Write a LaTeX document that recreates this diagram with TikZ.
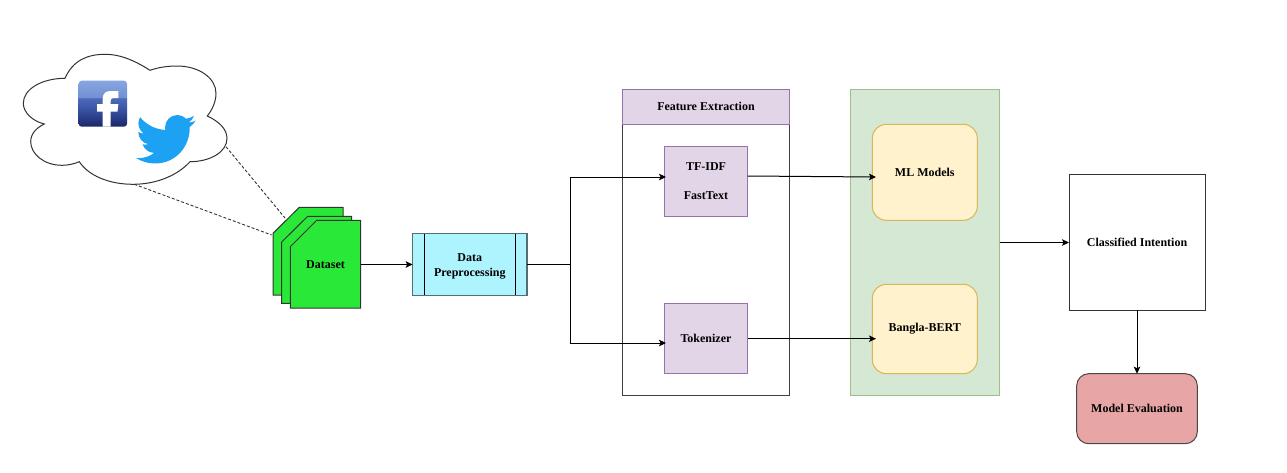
\documentclass[tikz,border=0pt]{standalone}
\usepackage{fontspec}
\setmainfont{Liberation Serif}
\usetikzlibrary{arrows.meta}
\definecolor{stackgreen}{HTML}{2AE838}
\definecolor{procblue}{HTML}{AEF4FF}
\definecolor{procline}{HTML}{566E73}
\definecolor{purplefill}{HTML}{E1D5E7}
\definecolor{purpleline}{HTML}{9673A6}
\definecolor{greenfill}{HTML}{D5E8D4}
\definecolor{greenline}{HTML}{9DC08B}
\definecolor{yellowfill}{HTML}{FFF2CC}
\definecolor{yellowline}{HTML}{D6B656}
\definecolor{redfill}{HTML}{E8A5A5}
\definecolor{redline}{HTML}{4F4545}
\definecolor{birdblue}{HTML}{1DA1F2}
\definecolor{fbA}{HTML}{1A2768}
\definecolor{fbB}{HTML}{3A55A6}
\definecolor{fbC}{HTML}{4D6BB8}
\definecolor{fbD}{HTML}{7391D2}
\definecolor{fbE}{HTML}{86A5E0}
\pgfdeclareverticalshading{fbshade}{100bp}{color(0bp)=(fbA); color(25bp)=(fbA); color(45bp)=(fbB); color(56bp)=(fbC); color(57bp)=(fbD); color(75bp)=(fbE); color(100bp)=(fbE)}
\tikzset{
  label/.style={font=\fontsize{12}{15}\selectfont\bfseries, align=center, inner sep=0pt, outer sep=0pt},
  box/.style={label, draw, line width=1pt},
  flow/.style={line width=1pt, -{Stealth[length=7pt,width=6.5pt,inset=1.5pt]}},
  plain/.style={line width=1pt},
  cloudlink/.style={line width=0.9pt, dash pattern=on 3pt off 2pt, draw=black!80},
  sheet/.style={draw=black!80, line width=1pt, fill=stackgreen}
}
\begin{document}
\begin{tikzpicture}[x=1pt,y=-1pt]
  \useasboundingbox (0,0) rectangle (1287,472);
  \draw[line width=1pt, draw=black!80, fill=white]
    (65,78.3) .. controls (73,60) and (88,54.3) .. (105,54.3)
    .. controls (122,54.3) and (137,62) .. (150,70.3)
    .. controls (158,67.5) and (167,66) .. (177,66)
    .. controls (199,66) and (216,78) .. (216,93.3)
    .. controls (216,102) and (212,110) .. (207.3,116)
    .. controls (219,121.5) and (227,129) .. (227,138.5)
    .. controls (227,152) and (210,161.7) .. (190,161.7)
    .. controls (178,175) and (157,184.3) .. (133,184.3)
    .. controls (108,184.3) and (88,175) .. (79.3,161.7)
    .. controls (74,164) and (68,165.3) .. (62,165.3)
    .. controls (44,165.3) and (30.7,154) .. (30.7,141.7)
    .. controls (30.7,134) and (36,128) .. (44.3,124)
    .. controls (32,121) and (23.3,112) .. (23.3,103.3)
    .. controls (23.3,89) and (42,78.3) .. (65,78.3) -- cycle;
  \path[shading=fbshade, rounded corners=3pt] (78.7,80.7) rectangle (127,126.7);
  \fill[white] (102.7,126.7) -- (102.7,111.7) -- (97,111.7) -- (97,104) -- (102.7,104) -- (102.7,99)
    .. controls (102.7,93) and (106,91) .. (111,91) -- (118.3,91) -- (118.3,98) -- (113.5,98)
    .. controls (111.5,98) and (110.7,99) .. (110.7,101) -- (110.7,104) -- (118.3,104)
    -- (117.5,111.7) -- (110.7,111.7) -- (110.7,126.7) -- cycle;
  \begin{scope}[shift={(136,109.3)},x=2.49pt,y=-2.49pt]
    \fill[birdblue] (23.953,4.57) .. controls (23.05,4.97) and (22.1,5.23) .. (21.128,5.345)
      .. controls (22.1,4.76) and (22.9,3.78) .. (23.291,2.622)
      .. controls (22.34,3.177) and (21.286,3.581) .. (20.164,3.806)
      .. controls (19.26,2.85) and (18,2.28) .. (16.6,2.28)
      .. controls (13.88,2.28) and (11.68,4.48) .. (11.68,7.2)
      -- (11.78,8.288)
      .. controls (7.69,8.095) and (4.067,6.13) .. (1.64,3.162)
      .. controls (1.22,3.88) and (.974,4.73) .. (.974,5.637)
      .. controls (.974,7.347) and (1.844,8.85) .. (3.162,9.733)
      .. controls (2.37,9.71) and (1.6,9.49) .. (.934,9.117)
      -- (.934,9.177)
      .. controls (.934,11.56) and (2.63,13.55) .. (4.88,14.004)
      .. controls (4.16,14.2) and (3.4,14.23) .. (2.668,14.089)
      .. controls (3.3,16.05) and (5.13,17.47) .. (7.272,17.506)
      .. controls (5.6,18.82) and (3.47,19.611) .. (1.17,19.611)
      .. controls (.78,19.611) and (.391,19.588) .. (0,19.544)
      .. controls (2.18,20.94) and (4.77,21.753) .. (7.557,21.753)
      .. controls (16.61,21.753) and (21.555,14.257) .. (21.555,7.768)
      .. controls (21.555,7.558) and (21.555,7.348) .. (21.54,7.138)
      .. controls (22.5,6.44) and (23.33,5.57) .. (23.953,4.57) -- cycle;
  \end{scope}
  \draw[sheet] (273,233.3) -- (299.3,207.3) -- (343,207.3) -- (343,295) -- (273,295) -- cycle;
  \draw[sheet] (281.7,242) -- (307.7,216.3) -- (351.7,216.3) -- (351.7,303.3) -- (281.7,303.3) -- cycle;
  \draw[sheet] (290.3,246.7) -- (316.7,220.3) -- (360.7,220.3) -- (360.7,308) -- (290.3,308) -- cycle;
  \coordinate (cloudbottom) at (134.3,184.3);
  \coordinate (cloudright) at (226,146.7);
  \coordinate (sheetleft) at (271.7,235);
  \coordinate (sheettop) at (285,218);
  \coordinate (split) at (570.3,264.5);
  \coordinate (splittop) at (570.3,177);
  \coordinate (splitlow) at (570.3,343);
  \draw
    (325.5,264.5) node[label, minimum width=70.4pt] (dataset){Dataset}
    (469.8,264.5) node[box, minimum width=114.3pt, minimum height=61.6pt, draw=procline, fill=procblue, line width=1.3pt] (preproc){\rule{0pt}{11pt}Data\\Preprocessing}
    (706,242.3) node[box, minimum width=166.6pt, minimum height=306pt, draw=black!75] (feature){}
    (706,106.8) node[box, minimum width=166.6pt, minimum height=35pt, draw=purpleline, fill=purplefill] (featurehead){Feature Extraction}
    (706,181.3) node[box, minimum width=83.4pt, minimum height=70pt, draw=purpleline, fill=purplefill] (tfidf){TF-IDF\\[14pt]FastText}
    (706,338.7) node[box, minimum width=83.4pt, minimum height=70pt, draw=purpleline, fill=purplefill] (tokenizer){Tokenizer}
    (925,242.5) node[box, minimum width=149.4pt, minimum height=306.4pt, draw=greenline, fill=greenfill] (models){}
    (924.8,172.3) node[box, minimum width=105pt, minimum height=96pt, rounded corners=14pt, draw=yellowline, fill=yellowfill] (ml){ML Models}
    (924.8,329) node[box, minimum width=105pt, minimum height=89.4pt, rounded corners=14pt, draw=yellowline, fill=yellowfill] (bert){Bangla-BERT}
    (1137,242.5) node[box, minimum width=136pt, minimum height=135.6pt, draw=black!80] (classified){Classified Intention}
    (1137,408.7) node[box, minimum width=120.6pt, minimum height=70pt, rounded corners=12pt, draw=redline, fill=redfill] (evaluation){Model Evaluation};
  \begin{scope}[plain]
    \draw ([xshift=11.6pt]preproc.north west) to ([xshift=11.6pt]preproc.south west);
    \draw ([xshift=-11.5pt]preproc.north east) to ([xshift=-11.5pt]preproc.south east);
    \draw (preproc.east) to (split);
    \draw (splitlow) to (splittop);
  \end{scope}
  \begin{scope}[cloudlink]
    \draw (cloudbottom) to (sheetleft);
    \draw (cloudright) to (sheettop);
  \end{scope}
  \begin{scope}[flow]
    \draw (dataset.east) to (preproc.west);
    \draw (splittop) to ([xshift=1.7pt,yshift=4.3pt]tfidf.west);
    \draw (splitlow) to ([xshift=1.7pt,yshift=-4.3pt]tokenizer.west);
    \draw ([yshift=5.3pt]tfidf.east) to ([xshift=3.7pt,yshift=-4.7pt]ml.west);
    \draw (tokenizer.east) to ([xshift=3.7pt,yshift=-9.7pt]bert.west);
    \draw (models.east) to (classified.west);
    \draw (classified.south) to (evaluation.north);
  \end{scope}
\end{tikzpicture}
\end{document}
